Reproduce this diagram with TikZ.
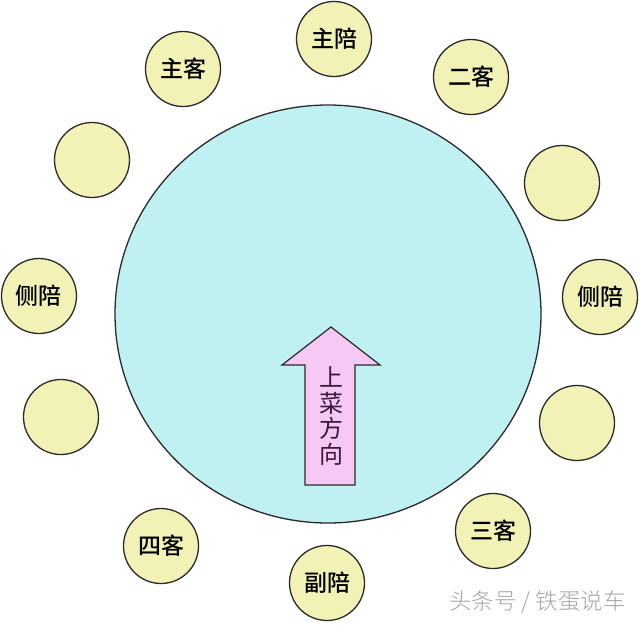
\documentclass[tikz,border=0pt]{standalone}
\usepackage{fontspec}
\newfontfamily\cjk{Noto Sans CJK SC Medium}
\newfontfamily\cjkreg{Noto Sans CJK SC}
\newfontfamily\cjklight{Noto Sans CJK SC Light}
\definecolor{seatfill}{HTML}{F2F2B6}
\definecolor{tablefill}{HTML}{BFF0F2}
\definecolor{arrowfill}{HTML}{F6C8F4}
\definecolor{edgecol}{HTML}{2A2A2A}
\definecolor{arrowtext}{HTML}{3A1A3A}
\begin{document}
\begin{tikzpicture}[x=1pt,y=-1pt,
  seat/.style={circle,draw=edgecol,line width=1.3pt,fill=seatfill,minimum size=75pt,inner sep=0pt,font=\cjk\fontsize{23}{23}\selectfont,text=black},
  servearrow/.style={draw=edgecol,line width=1.2pt,fill=arrowfill,line join=miter}]
\useasboundingbox (0,0) rectangle (640,624);
\fill[white] (0,0) rectangle (640,624);
% table
\draw[draw=edgecol,line width=1.3pt,fill=tablefill] (328,314) ellipse [x radius=213, y radius=209];
\coordinate (table) at (328,314);
% arrow
\draw[servearrow] (305,485) -- (305,365) -- (282,365) -- (331,327) -- (380,365) -- (355,365) -- (355,485) -- cycle;
\node[font=\cjkreg\fontsize{24}{25.5}\selectfont,text=arrowtext,align=center,inner sep=0pt] (serve) at (331,416) {上\\菜\\方\\向};
% seats
\node[seat] (s1) at (334,39) {主陪};
\node[seat] (s2) at (471,77) {二客};
\node[seat] (s3) at (562,183) {};
\node[seat] (s4) at (600,297) {侧陪};
\node[seat] (s5) at (577,423) {};
\node[seat] (s6) at (493,531) {三客};
\node[seat] (s7) at (327,583) {副陪};
\node[seat] (s8) at (161,546) {四客};
\node[seat] (s9) at (61,417) {};
\node[seat] (s10) at (39,296) {侧陪};
\node[seat] (s11) at (92,160) {};
\node[seat] (s12) at (183,69) {主客};
% watermark
\node[font=\cjklight\fontsize{22.5}{22.5}\selectfont,text=black!35,anchor=east,inner sep=0pt] (wm) at (626,602) {头条号 / 铁蛋说车};
\end{tikzpicture}
\end{document}
